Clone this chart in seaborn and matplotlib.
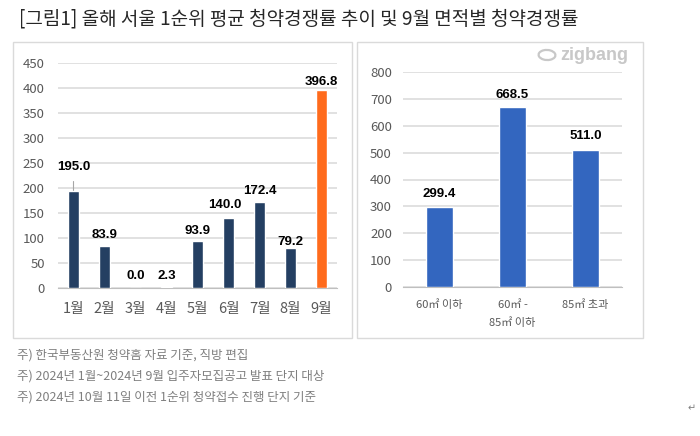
import matplotlib
matplotlib.use("Agg")
import matplotlib.pyplot as plt
import seaborn as sns
import pandas as pd
from matplotlib.patches import Rectangle, Ellipse

sns.set_style("white")
plt.rcParams['font.family'] = ['Noto Sans CJK KR', 'DejaVu Sans']

# ---- data ----
months = ["1월", "2월", "3월", "4월", "5월", "6월", "7월", "8월", "9월"]
month_values = [195.0, 83.9, 0.0, 2.3, 93.9, 140.0, 172.4, 79.2, 396.8]
month_labels = ["195.0", "83.9", "0.0", "2.3", "93.9", "140.0", "172.4", "79.2", "396.8"]
left_yticks = [0, 50, 100, 150, 200, 250, 300, 350, 400, 450]

areas = ["60㎡ 이하", "60㎡ -\n85㎡ 이하", "85㎡ 초과"]
area_values = [299.4, 668.5, 511.0]
area_labels = ["299.4", "668.5", "511.0"]
right_yticks = [0, 100, 200, 300, 400, 500, 600, 700, 800]

title = "[그림1] 올해 서울 1순위 평균 청약경쟁률 추이 및 9월 면적별 청약경쟁률"
notes = ["주) 한국부동산원 청약홈 자료 기준, 직방 편집",
         "주) 2024년 1월~2024년 9월 입주자모집공고 발표 단지 대상",
         "주) 2024년 10월 11일 이전 1순위 청약접수 진행 단지 기준"]

NAVY = "#243F62"
ORANGE = "#FF6B1C"
BLUE = "#3366BF"
GRID = "#D9D9D9"
TICK = "#595959"
LABEL_FONT = ["Liberation Sans", "DejaVu Sans"]

W, H = 700, 436
fig = plt.figure(figsize=(7, 4.36), dpi=100)
fig.patch.set_facecolor("white")

def px_axes(l, r, top, bottom):
    return fig.add_axes([l / W, (H - bottom) / H, (r - l) / W, (bottom - top) / H])

# panel frames
for (l, r, t, b) in [(13, 352, 42, 338), (357, 643, 42, 338)]:
    fig.patches.append(Rectangle((l / W, (H - b) / H), (r - l) / W, (b - t) / H,
                                 transform=fig.transFigure, fill=False,
                                 edgecolor="#DADADA", lw=1.0, zorder=0))

# ---- left chart ----
ax1 = px_axes(58, 337, 63, 288)
df1 = pd.DataFrame({"month": months, "value": month_values})
colors1 = [NAVY] * (len(months) - 1) + [ORANGE]
sns.barplot(data=df1, x="month", y="value", hue="month", palette=colors1,
            legend=False, width=0.33, saturation=1, ax=ax1, zorder=3)
ax1.set_xlim(-0.5, len(months) - 0.5)
ax1.set_ylim(0, 450)
ax1.set_yticks(left_yticks)
ax1.yaxis.grid(True, color=GRID, lw=1.1)
ax1.set_axisbelow(True)
for s in ["top", "right", "left"]:
    ax1.spines[s].set_visible(False)
ax1.spines["bottom"].set_color("#BFBFBF")
ax1.set_xlabel("")
ax1.set_ylabel("")
ax1.tick_params(axis="y", length=0, labelsize=9.5, labelcolor=TICK, pad=9.5)
ax1.tick_params(axis="x", length=0, labelsize=10.5, labelcolor=TICK, pad=10)
ax1.set_xticks([i - 0.5 for i in range(len(months) + 1)], minor=True)
ax1.tick_params(axis="x", which="minor", length=5, color="#BFBFBF", direction="out")

offsets1 = [24, 11, 12, 11, 10, 13, 11, 6, 8]
dx1 = [0, 0, 0, 0, 0, -4, 0, 0, 0]
for i, (v, lab) in enumerate(zip(month_values, month_labels)):
    ax1.annotate(lab, (i, v), xytext=(dx1[i], offsets1[i]), textcoords="offset pixels",
                 ha="center", va="center", fontsize=9.5, fontweight="bold",
                 color="black", family=LABEL_FONT, zorder=5)
# leader line for first label
ax1.plot([-0.02, -0.02], [month_values[0] + 2, month_values[0] + 20],
         color="#A6A6A6", lw=0.8, zorder=4)

# ---- right chart ----
ax2 = px_axes(403, 622, 72, 287)
df2 = pd.DataFrame({"area": areas, "value": area_values})
sns.barplot(data=df2, x="area", y="value", color=BLUE, width=0.37,
            saturation=1, ax=ax2, zorder=3)
ax2.set_xlim(-0.5, len(areas) - 0.5)
ax2.set_ylim(0, 800)
ax2.set_yticks(right_yticks)
ax2.yaxis.grid(True, color=GRID, lw=1.1)
ax2.set_axisbelow(True)
for s in ["top", "right", "left"]:
    ax2.spines[s].set_visible(False)
ax2.spines["bottom"].set_color("#BFBFBF")
ax2.set_xlabel("")
ax2.set_ylabel("")
ax2.tick_params(axis="y", length=0, labelsize=9.5, labelcolor=TICK, pad=8)
ax2.tick_params(axis="x", length=0, labelsize=8, labelcolor=TICK, pad=9)
for t in ax2.get_xticklabels():
    t.set_linespacing(1.9)
    t.set_va("top")
ax2.set_xticks([i - 0.5 for i in range(len(areas) + 1)], minor=True)
ax2.tick_params(axis="x", which="minor", length=4, color="#BFBFBF", direction="out")

offsets2 = [13, 12, 14]
for i, (v, lab) in enumerate(zip(area_values, area_labels)):
    ax2.annotate(lab, (i, v), xytext=(0, offsets2[i]), textcoords="offset pixels",
                 ha="center", va="center", fontsize=9.5, fontweight="bold",
                 color="black", family=LABEL_FONT, zorder=5)

# zigbang logo
fig.text(560 / W, 1 - 55 / H, "zigbang", fontsize=13, color="#C8C8C8",
         fontweight="bold", ha="left", va="center", family=LABEL_FONT)
fig.patches.append(Ellipse((547 / W, 1 - 55 / H), 17 / W, 10 / H, angle=-25,
                           transform=fig.transFigure, fill=False,
                           edgecolor="#C8C8C8", lw=1.6))

# title
fig.text(19 / W, 1 - 19 / H, title, fontsize=13.7, color="#262626",
         ha="left", va="center")

# notes
for k, n in enumerate(notes):
    fig.text(17 / W, 1 - (355 + 21 * k) / H, n, fontsize=9, color="#7F7F7F",
             ha="left", va="center")
fig.text(688 / W, 1 - 408 / H, "↵", fontsize=7, color="#7F7F7F",
         ha="left", va="center", family=["DejaVu Sans"])

fig.savefig("out.png", dpi=100, facecolor="white")
